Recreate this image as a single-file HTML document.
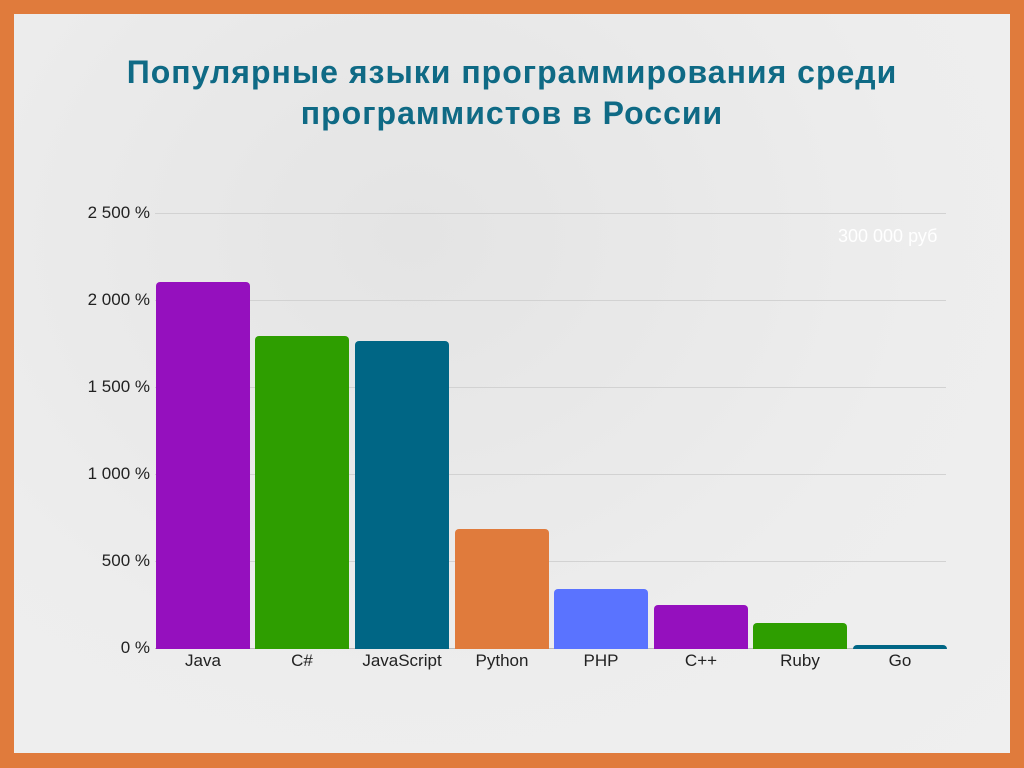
<!DOCTYPE html>
<html><head><meta charset="utf-8"><style>
body{margin:0;width:1024px;height:768px;background:#e07b3c;position:relative;overflow:hidden;font-family:"Liberation Sans",sans-serif}
.in{position:absolute;left:14px;top:14px;width:996px;height:739px;background:radial-gradient(ellipse at 40% 30%,#e4e4e4,#ededed 60%,#efefef)}
.t{position:absolute;left:0;width:1024px;text-align:center;color:#0f6a85;font-weight:bold;font-size:32px;letter-spacing:1px;line-height:41px;top:52px}
.g{position:absolute;left:155px;width:791px;height:1px;background:#d2d2d2}
.yl{position:absolute;right:874px;font-size:17px;color:#222;text-align:right;white-space:nowrap}
.b{position:absolute;border-radius:4px 4px 0 0;width:94px;bottom:119px}
.xl{position:absolute;top:651px;width:100px;text-align:center;font-size:17px;color:#222}
</style></head><body>
<div class="in"></div>
<div class="t">Популярные языки программирования среди<br>программистов в России</div>
<div class="g" style="top:213px"></div><div class="g" style="top:300px"></div><div class="g" style="top:387px"></div><div class="g" style="top:474px"></div><div class="g" style="top:561px"></div><div class="g" style="top:648px;background:#bbb"></div>
<div class="yl" style="top:203px">2 500 %</div><div class="yl" style="top:290px">2 000 %</div><div class="yl" style="top:377px">1 500 %</div><div class="yl" style="top:464px">1 000 %</div><div class="yl" style="top:551px">500 %</div><div class="yl" style="top:638px">0 %</div>
<div style="position:absolute;left:838px;top:226px;color:#fff;font-size:18px">300 000 руб</div>
<div class="b" style="left:156px;top:282px;background:#9510be"></div>
<div class="b" style="left:255px;top:336px;background:#2e9e00"></div>
<div class="b" style="left:355px;top:341px;background:#006685"></div>
<div class="b" style="left:455px;top:529px;background:#e07b3c"></div>
<div class="b" style="left:554px;top:589px;background:#5a73ff"></div>
<div class="b" style="left:654px;top:605px;background:#9510be"></div>
<div class="b" style="left:753px;top:623px;background:#2e9e00"></div>
<div class="b" style="left:853px;top:645px;background:#006685"></div>
<div class="xl" style="left:153px">Java</div><div class="xl" style="left:252px">C#</div><div class="xl" style="left:352px">JavaScript</div><div class="xl" style="left:452px">Python</div><div class="xl" style="left:551px">PHP</div><div class="xl" style="left:651px">C++</div><div class="xl" style="left:750px">Ruby</div><div class="xl" style="left:850px">Go</div>
</body></html>
